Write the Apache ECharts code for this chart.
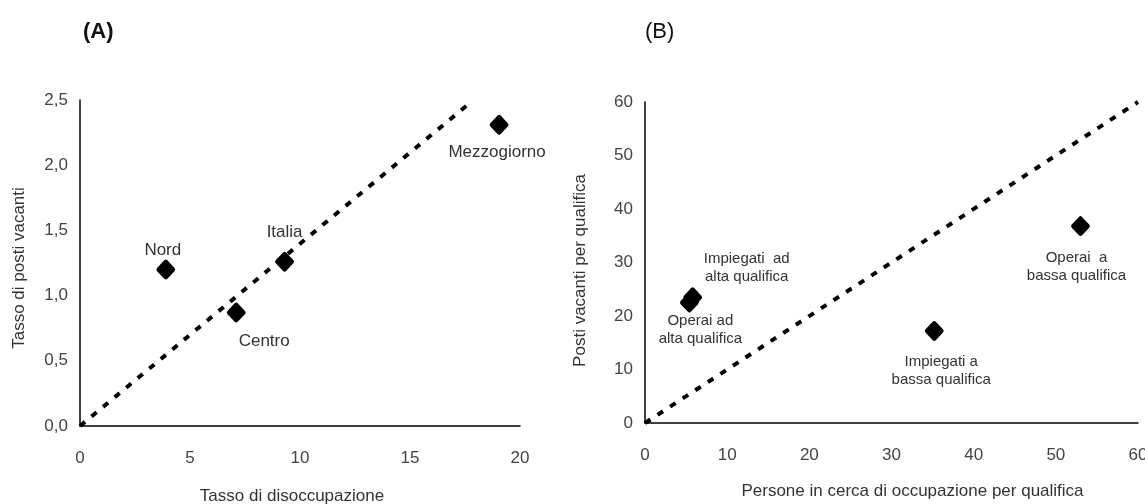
<!DOCTYPE html>
<html>
<head>
<meta charset="utf-8">
<script src="https://cdn.jsdelivr.net/npm/echarts@6/dist/echarts.min.js"></script>
<style>
html,body{margin:0;padding:0;background:#fff;}
#chart{width:1145px;height:504px;}
</style>
</head>
<body>
<div id="chart"></div>
<script>
// ---- Panel A data ----
var namesA = ['Nord', 'Centro', 'Italia', 'Mezzogiorno'];
var unempA = [3.9, 7.1, 9.3, 19.05];      // Tasso di disoccupazione
var vacA   = [1.20, 0.87, 1.26, 2.31];    // Tasso di posti vacanti
var refLineA = [[0, 0], [17.6, 2.46]];
var xTicksA = [0, 5, 10, 15, 20];
var yTicksA = [0, 0.5, 1.0, 1.5, 2.0, 2.5];

// ---- Panel B data ----
var namesB = ['Operai ad\nalta qualifica', 'Impiegati  ad\nalta qualifica', 'Impiegati a\nbassa qualifica', 'Operai  a\nbassa qualifica'];
var seekersB = [5.4, 5.8, 35.2, 53.0];    // Persone in cerca di occupazione per qualifica
var vacB     = [22.5, 23.5, 17.2, 36.8];  // Posti vacanti per qualifica
var refLineB = [[0, 0], [60, 60]];
var xTicksB = [0, 10, 20, 30, 40, 50, 60];
var yTicksB = [0, 10, 20, 30, 40, 50, 60];

// ---- layout / style ----
var FONT = '"Liberation Sans", Arial, sans-serif';
var TXT = '#333';
var labelOffsetA = {'Nord': [-3, -19], 'Centro': [28, 29], 'Italia': [0, -29], 'Mezzogiorno': [-2, 28]};
var labelOffsetB = [[11, 27], [54, -29], [7, 40], [-4, 41]];
var DIAMOND = 'path://M8.5 1.5Q10 0 11.5 1.5L18.5 8.5Q20 10 18.5 11.5L11.5 18.5Q10 20 8.5 18.5L1.5 11.5Q0 10 1.5 8.5Z';

function pts(xs, ys, names, offsets, fs, lh) {
  return xs.map(function (x, i) {
    var off = Array.isArray(offsets) ? offsets[i] : offsets[names[i]];
    return {
      value: [x, ys[i]],
      name: names[i],
      label: {show: true, position: 'inside', offset: off, formatter: names[i],
              fontSize: fs, lineHeight: lh, color: TXT, fontFamily: FONT}
    };
  });
}

function axisX(idx, ticks, name, gap, pad) {
  return {
    type: 'value', gridIndex: idx,
    min: ticks[0], max: ticks[ticks.length - 1], interval: ticks[1] - ticks[0],
    name: name, nameLocation: 'middle', nameGap: gap,
    nameTextStyle: {fontSize: 17, color: TXT, fontFamily: FONT, padding: pad},
    axisLine: {show: true, onZero: false, lineStyle: {color: '#000', width: 1.5}},
    axisTick: {show: false}, splitLine: {show: false},
    axisLabel: {fontSize: 17, color: '#444', fontFamily: FONT, margin: 24}
  };
}
function axisY(idx, ticks, name, gap, fmt, pad) {
  return {
    type: 'value', gridIndex: idx,
    min: ticks[0], max: ticks[ticks.length - 1], interval: ticks[1] - ticks[0],
    name: name, nameLocation: 'middle', nameGap: gap,
    nameTextStyle: {fontSize: 17, color: TXT, fontFamily: FONT, padding: pad},
    axisLine: {show: true, onZero: false, lineStyle: {color: '#000', width: 1.5}},
    axisTick: {show: false}, splitLine: {show: false},
    axisLabel: {fontSize: 17, color: '#444', fontFamily: FONT, margin: 12, formatter: fmt}
  };
}

var dashStyle = {color: '#000', width: 4, type: [6.5, 8.5], cap: 'butt'};

var option = {
  backgroundColor: '#fff',
  animation: false,
  title: [
    {text: '(A)', left: 83, top: 21, padding: 0,
     textStyle: {fontSize: 22, fontWeight: 'bold', color: '#111', fontFamily: FONT}},
    {text: '(B)', left: 645, top: 21, padding: 0,
     textStyle: {fontSize: 22, fontWeight: 'normal', color: '#111', fontFamily: FONT}}
  ],
  grid: [
    {left: 80, right: 625, top: 100, bottom: 78, containLabel: false, outerBoundsMode: 'none'},
    {left: 645, right: 7, top: 102, bottom: 81, containLabel: false, outerBoundsMode: 'none'}
  ],
  xAxis: [
    axisX(0, xTicksA, 'Tasso di disoccupazione', 62, [0, 16, 0, 0]),
    axisX(1, xTicksB, 'Persone in cerca di occupazione per qualifica', 60, [0, 0, 0, 42])
  ],
  yAxis: [
    axisY(0, yTicksA, 'Tasso di posti vacanti', 52, function (v) { return v.toFixed(1).replace('.', ','); }, [0, 10, 0, 0]),
    axisY(1, yTicksB, 'Posti vacanti per qualifica', 56, function (v) { return String(v); }, [0, 16, 0, 0])
  ],
  series: [
    {type: 'line', xAxisIndex: 0, yAxisIndex: 0, data: refLineA, symbol: 'none',
     lineStyle: dashStyle, z: 1},
    {type: 'scatter', xAxisIndex: 0, yAxisIndex: 0, symbol: DIAMOND, symbolSize: [19, 20],
     itemStyle: {color: '#000', opacity: 1}, data: pts(unempA, vacA, namesA, labelOffsetA, 17, 20), z: 3},
    {type: 'line', xAxisIndex: 1, yAxisIndex: 1, data: refLineB, symbol: 'none',
     lineStyle: dashStyle, z: 1},
    {type: 'scatter', xAxisIndex: 1, yAxisIndex: 1, symbol: DIAMOND, symbolSize: [19, 20],
     itemStyle: {color: '#000', opacity: 1}, data: pts(seekersB, vacB, namesB, labelOffsetB, 15, 18), z: 3}
  ]
};

var chart = echarts.init(document.getElementById('chart'), null, {renderer: 'canvas'});
chart.setOption(option);
</script>
</body>
</html>
